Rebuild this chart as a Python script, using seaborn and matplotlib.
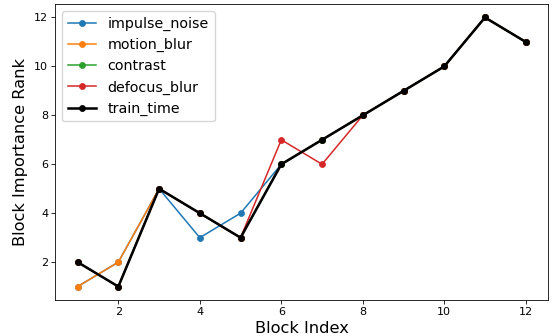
import numpy as np
import pandas as pd
import seaborn as sns
import matplotlib.pyplot as plt

blocks = list(range(1, 13))
impulse_noise = [1, 2, 5, 3, 4, 6, 7, 8, 9, 10, 12, 11]
motion_blur = [1, 2, 5, 4, 3, 6, 7, 8, 9, 10, 12, 11]
contrast = [2, 1, 5, 4, 3, 6, 7, 8, 9, 10, 12, 11]
defocus_blur = [2, 1, 5, 4, 3, 7, 6, 8, 9, 10, 12, 11]
train_time = [2, 1, 5, 4, 3, 6, 7, 8, 9, 10, 12, 11]

series = {
    "impulse_noise": impulse_noise,
    "motion_blur": motion_blur,
    "contrast": contrast,
    "defocus_blur": defocus_blur,
    "train_time": train_time,
}
colors = {
    "impulse_noise": "#1f77b4",
    "motion_blur": "#ff7f0e",
    "contrast": "#2ca02c",
    "defocus_blur": "#d62728",
    "train_time": "black",
}

# figure looks like a downscaled default-size plot, so scale everything
s = 0.73
plt.rcParams["axes.linewidth"] = 0.8 * s
plt.rcParams["xtick.major.width"] = 0.8 * s
plt.rcParams["ytick.major.width"] = 0.8 * s
plt.rcParams["xtick.major.size"] = 3.5 * s
plt.rcParams["ytick.major.size"] = 3.5 * s

fig, ax = plt.subplots(figsize=(5.52, 3.36), dpi=100)

for name, vals in series.items():
    lw = (2.5 if name == "train_time" else 1.5) * s
    sns.lineplot(x=blocks, y=vals, ax=ax, label=name, color=colors[name],
                 marker="o", markersize=6 * s, linewidth=lw,
                 markeredgecolor=colors[name], markeredgewidth=0.5)

ax.set_xlabel("Block Index", fontsize=16 * s, labelpad=3)
ax.set_ylabel("Block Importance Rank", fontsize=16 * s)
ax.tick_params(labelsize=8, pad=3.5 * s)
ax.legend(loc="upper left", fontsize=14 * s)

fig.subplots_adjust(left=0.1, right=0.993, bottom=0.107, top=0.988)
fig.savefig("out.png", dpi=100)
